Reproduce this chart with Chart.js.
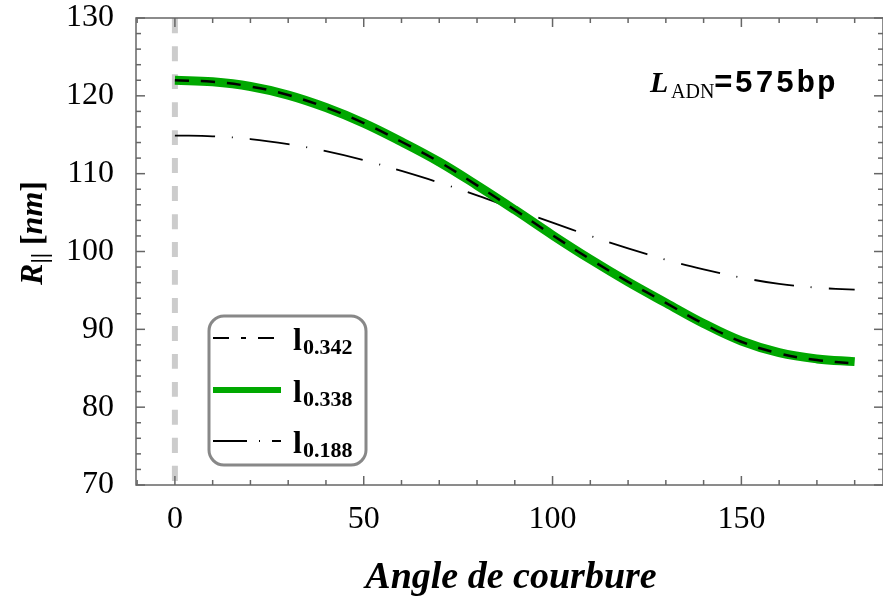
<!DOCTYPE html>
<html>
<head>
<meta charset="utf-8">
<script src="https://cdn.jsdelivr.net/npm/chart.js@4.4.0/dist/chart.umd.min.js"></script>
<style>
  html, body { margin: 0; padding: 0; background: #fff; }
  canvas { display: block; }
</style>
</head>
<body>
<canvas id="c" width="883" height="603"></canvas>
<script>
// angles (degrés) et rayons R||
const angles = [0, 10, 20, 30, 40, 50, 60, 70, 80, 90, 100, 110, 120, 130, 140, 150, 160, 170, 180];
const r0342 = [122.0, 121.8, 121.2, 120.1, 118.5, 116.5, 114.1, 111.5, 108.5, 105.35, 102.1, 99.0, 96.1, 93.4, 90.7, 88.4, 86.9, 86.05, 85.6];
const r0338 = [122.0, 121.8, 121.2, 120.1, 118.5, 116.5, 114.1, 111.5, 108.5, 105.35, 102.1, 99.0, 96.1, 93.4, 90.75, 88.5, 87.0, 86.2, 85.85];
const r0188 = [114.9, 114.8, 114.45, 113.8, 112.9, 111.75, 110.35, 108.85, 107.2, 105.45, 103.7, 102.0, 100.4, 98.95, 97.7, 96.65, 95.85, 95.35, 95.1];
const xTicks = [0, 50, 100, 150];
const yTicks = [70, 80, 90, 100, 110, 120, 130];
const legendNames = ['0.342', '0.338', '0.188'];

const GREEN = '#00a800';
const SERIF = '"Liberation Serif", "Times New Roman", serif';

const pts = (ys) => angles.map((a, i) => ({ x: a, y: ys[i] }));

// cadre, graduations internes, légende, annotation et titres d'axes
const overlay = {
    id: 'overlay',
    afterDraw(chart) {
        const { ctx, chartArea: a, scales: { x, y } } = chart;
        ctx.save();
        const seg = (x1, y1, x2, y2) => { ctx.beginPath(); ctx.moveTo(x1, y1); ctx.lineTo(x2, y2); ctx.stroke(); };

        ctx.strokeStyle = '#666';
        ctx.lineWidth = 1.5;
        ctx.strokeRect(a.left, a.top, a.right - a.left, a.bottom - a.top);
        for (let v = -10; v <= 180; v += 10) {
            const px = x.getPixelForValue(v);
            const len = v % 50 === 0 ? 9 : 5;
            seg(px, a.bottom, px, a.bottom - len);
            seg(px, a.top, px, a.top + len);
        }
        for (let v = 70; v <= 130; v += 2) {
            const py = y.getPixelForValue(v);
            const len = v % 10 === 0 ? 9 : 5;
            seg(a.left, py, a.left + len, py);
            seg(a.right, py, a.right - len, py);
        }

        // légende
        const bx = 209, by = 316, bw = 157, bh = 149, rr = 15;
        ctx.fillStyle = '#fff';
        ctx.strokeStyle = '#888';
        ctx.lineWidth = 3;
        ctx.beginPath();
        ctx.roundRect(bx, by, bw, bh, rr);
        ctx.fill();
        ctx.stroke();
        const rows = [338, 390, 441];
        const styles = [
            { c: '#000', w: 2, d: [16, 12, 5, 12] },
            { c: GREEN, w: 6, d: [] },
            { c: '#000', w: 1.8, d: [34, 12, 1, 12] }
        ];
        rows.forEach((ry, i) => {
            ctx.strokeStyle = styles[i].c;
            ctx.lineWidth = styles[i].w;
            ctx.setLineDash(styles[i].d);
            seg(213, ry, 281, ry);
            ctx.setLineDash([]);
            ctx.fillStyle = '#000';
            ctx.textBaseline = 'alphabetic';
            ctx.textAlign = 'left';
            ctx.font = 'bold 32px ' + SERIF;
            ctx.fillText('l', 293, ry + 12);
            ctx.font = 'bold 22px ' + SERIF;
            ctx.fillText(legendNames[i], 303, ry + 16);
        });

        // annotation L_ADN=575bp
        ctx.fillStyle = '#000';
        ctx.font = 'italic bold 30px ' + SERIF;
        ctx.fillText('L', 650, 92);
        ctx.font = '20px ' + SERIF;
        ctx.fillText('ADN', 671, 98);
        ctx.font = 'bold 31px "Liberation Mono", "Courier New", monospace';
        ctx.letterSpacing = '2px';
        ctx.fillText('=575bp', 714, 92);
        ctx.letterSpacing = '0px';

        // titre axe x
        ctx.font = 'italic bold 38px ' + SERIF;
        ctx.textAlign = 'center';
        ctx.fillText('Angle de courbure', 511, 588);

        // titre axe y (R|| [nm])
        ctx.translate(42, 233);
        ctx.rotate(-Math.PI / 2);
        ctx.textAlign = 'left';
        const parts = [
            { t: 'R', f: 'italic bold 32px ' + SERIF, dy: 0 },
            { t: '||', f: 'bold 24px ' + SERIF, dy: 5 },
            { t: ' [', f: 'bold 32px ' + SERIF, dy: 0 },
            { t: 'nm', f: 'italic bold 32px ' + SERIF, dy: 0 },
            { t: ']', f: 'bold 32px ' + SERIF, dy: 0 }
        ];
        let total = 0;
        parts.forEach(p => { ctx.font = p.f; p.w = ctx.measureText(p.t).width; total += p.w; });
        let cx = -total / 2;
        parts.forEach(p => { ctx.font = p.f; ctx.fillText(p.t, cx, p.dy); cx += p.w; });
        ctx.restore();
    }
};

new Chart(document.getElementById('c'), {
    type: 'line',
    data: {
        datasets: [
            {
                label: 'l0.342',
                data: pts(r0342),
                borderColor: '#000',
                borderWidth: 2.5,
                borderDash: [14, 12],
                order: 1
            },
            {
                label: 'l0.338',
                data: pts(r0338),
                borderColor: GREEN,
                borderWidth: 9,
                order: 2
            },
            {
                label: 'l0.188',
                data: pts(r0188),
                borderColor: '#000',
                borderWidth: 1.8,
                borderDash: [40, 17, 1, 17],
                order: 3
            },
            {
                label: 'angle 0',
                data: [{ x: 0, y: 130 }, { x: 0, y: 70 }],
                borderColor: '#cccccc',
                borderWidth: 6,
                borderDash: [15, 13],
                order: 4
            }
        ]
    },
    options: {
        responsive: false,
        animation: false,
        devicePixelRatio: 1,
        layout: { padding: { top: 18, right: 0, left: 0, bottom: 0 } },
        elements: {
            point: { radius: 0 },
            line: { tension: 0.4, borderCapStyle: 'butt' }
        },
        plugins: { legend: { display: false }, tooltip: { enabled: false } },
        scales: {
            x: {
                type: 'linear',
                min: -10.3,
                max: 187.5,
                grid: { display: false },
                border: { display: false },
                afterBuildTicks: (s) => { s.ticks = xTicks.map(v => ({ value: v })); },
                afterFit: (s) => { s.height = 118; s.paddingLeft = 0; s.paddingRight = 0; },
                ticks: { color: '#000', font: { family: SERIF, size: 32 }, padding: 7, maxRotation: 0 }
            },
            y: {
                min: 70,
                max: 130,
                grid: { display: false },
                border: { display: false },
                afterBuildTicks: (s) => { s.ticks = yTicks.map(v => ({ value: v })); },
                afterFit: (s) => { s.width = 136; s.paddingTop = 0; s.paddingBottom = 0; },
                ticks: { color: '#000', font: { family: SERIF, size: 32 }, padding: 14 }
            }
        }
    },
    plugins: [overlay]
});
</script>
</body>
</html>
